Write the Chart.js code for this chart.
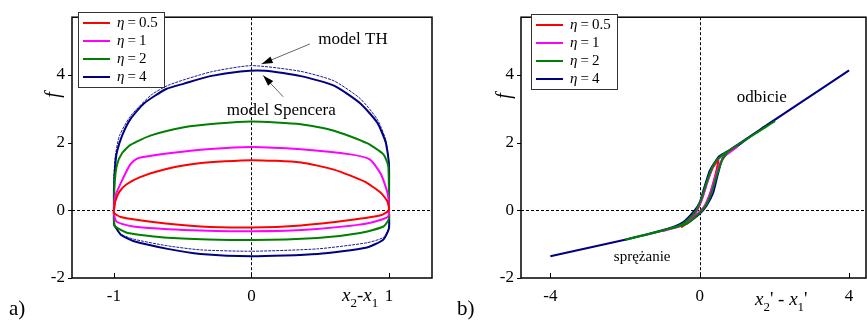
<!DOCTYPE html>
<html>
<head>
<meta charset="utf-8">
<script src="https://cdn.jsdelivr.net/npm/chart.js@4.4.0/dist/chart.umd.min.js"></script>
<style>
  html, body { margin: 0; padding: 0; background: #fff; overflow: hidden; width: 867px; height: 322px; }
  canvas { position: absolute; top: 0; }
  #c1 { left: 0; }
  #c2 { left: 440px; }
</style>
</head>
<body>
<canvas id="c1" width="440" height="322"></canvas>
<canvas id="c2" width="427" height="322"></canvas>
<script>
// series names and colours
var etaLabels = ['0.5', '1', '2', '4'];
var etaColors = ['#ff0000', '#ff00ff', '#008000', '#000080'];

// tick labels
var xTicksA = [-1, 0, 1];
var xTicksB = [-4, 0, 4];
var yTicks = [-2, 0, 2, 4];

// panel a) f against x2-x1, each loop: upper branch then lower branch
var aRedX = [-1, -0.99, -0.96, -0.91, -0.81, -0.62, -0.38, 0, 0.36, 0.6, 0.82, 0.94, 0.99, 1,
             0.94, 0.72, 0.36, 0, -0.37, -0.73, -0.95, -1, -1];
var aRedF = [0, 0.27, 0.55, 0.76, 0.98, 1.22, 1.39, 1.48, 1.41, 1.2, 0.85, 0.52, 0.25, 0,
             -0.15, -0.29, -0.45, -0.51, -0.48, -0.34, -0.2, -0.08, 0];

var aMagX = [-1, -0.99, -0.94, -0.88, -0.83, -0.6, -0.3, 0, 0.36, 0.72, 0.86, 0.94, 0.99, 1,
             0.99, 0.84, 0.48, 0, -0.49, -0.86, -0.98, -1, -1];
var aMagF = [0, 0.42, 0.89, 1.36, 1.53, 1.68, 1.81, 1.87, 1.8, 1.65, 1.5, 1.08, 0.5, 0,
             -0.2, -0.39, -0.55, -0.62, -0.58, -0.48, -0.34, -0.12, 0];

var aGrnX = [-1, -0.995, -0.977, -0.94, -0.88, -0.73, -0.49, -0.25, 0, 0.36, 0.6, 0.84, 0.96, 0.995, 1,
             1, 0.96, 0.79, 0.48, 0, -0.61, -0.9, -0.99, -1, -1];
var aGrnF = [0, 0.8, 1.36, 1.69, 1.93, 2.21, 2.45, 2.56, 2.62, 2.54, 2.35, 1.98, 1.65, 1.3, 0,
             -0.25, -0.48, -0.67, -0.82, -0.88, -0.81, -0.67, -0.48, -0.3, 0];

var aNavX = [-1, -1, -0.99, -0.977, -0.94, -0.88, -0.78, -0.62, -0.49, -0.3, -0.08, 0.1, 0.36, 0.6, 0.79, 0.914, 0.975, 1, 1,
             1, 0.96, 0.84, 0.48, 0, -0.37, -0.61, -0.86, -0.95, -1];
var aNavF = [-0.43, 0.6, 1.36, 1.74, 2.21, 2.69, 3.16, 3.58, 3.74, 3.96, 4.1, 4.12, 3.96, 3.68, 3.16, 2.59, 2.02, 1.36, 0,
             -0.53, -0.86, -1.1, -1.29, -1.36, -1.29, -1.14, -0.91, -0.72, -0.43];

// model TH (thin dotted)
var aThX = [-1, -1, -0.99, -0.96, -0.88, -0.73, -0.6, -0.3, 0, 0.36, 0.6, 0.79, 0.914, 0.975, 0.995, 1, 1,
            0.96, 0.84, 0.48, 0, -0.37, -0.61, -0.86, -0.96, -1];
var aThF = [-0.4, 1.0, 1.6, 2.2, 2.78, 3.4, 3.7, 4.08, 4.27, 4.1, 3.82, 3.3, 2.69, 2.1, 1.6, 1.0, -0.5,
            -0.8, -0.96, -1.14, -1.21, -1.17, -1.05, -0.85, -0.68, -0.4];

// panel b) f against x2'-x1'
var bRedV = [-0.5, -0.3, -0.1, 0.05, 0.2, 0.35, 0.5, 0.42, 0.28, 0.12, -0.05, -0.3, -0.5];
var bRedF = [-0.51, -0.35, -0.05, 0.3, 0.82, 1.25, 1.48, 1.05, 0.5, 0.1, -0.1, -0.33, -0.51];

var bMagV = [-1, -0.45, -0.1, 0.05, 0.2, 0.35, 0.5, 0.65, 1, 0.7, 0.55, 0.42, 0.28, 0.12, -0.05, -0.35, -1];
var bMagF = [-0.62, -0.42, -0.05, 0.3, 0.82, 1.28, 1.52, 1.65, 1.87, 1.62, 1.4, 1.0, 0.5, 0.1, -0.1, -0.4, -0.62];

var bGrnV = [-2, -1, -0.45, -0.12, 0.03, 0.18, 0.33, 0.48, 0.7, 2, 0.75, 0.57, 0.45, 0.31, 0.14, -0.03, -0.35, -1, -2];
var bGrnF = [-0.87, -0.6, -0.4, -0.05, 0.3, 0.8, 1.25, 1.5, 1.7, 2.62, 1.72, 1.4, 1.0, 0.5, 0.1, -0.1, -0.4, -0.6, -0.87];

var bNavV = [-4, -2, -1, -0.45, -0.13, 0, 0.13, 0.27, 0.4, 0.53, 0.8, 1.6, 2.5, 4,
             2.5, 1.6, 0.9, 0.62, 0.49, 0.36, 0.18, 0, -0.36, -0.8, -2, -4];
var bNavF = [-1.36, -0.87, -0.6, -0.36, 0, 0.23, 0.7, 1.17, 1.41, 1.6, 1.78, 2.37, 3.03, 4.13,
             3.03, 2.37, 1.8, 1.55, 1.08, 0.51, 0.13, -0.1, -0.39, -0.53, -0.87, -1.36];

var serif = '"Liberation Serif", "Times New Roman", serif';

function pts(xs, ys) {
  return xs.map(function (x, i) { return {x: x, y: ys[i]}; });
}

function loop(label, xs, ys, color, order) {
  return {
    label: label, data: pts(xs, ys), borderColor: color, backgroundColor: color,
    borderWidth: 2, showLine: true, pointRadius: 0, tension: 0.2, fill: false, order: order
  };
}

function line(ctx, x1, y1, x2, y2) {
  ctx.beginPath(); ctx.moveTo(x1, y1); ctx.lineTo(x2, y2); ctx.stroke();
}

function runs(ctx, x, y, list) {
  list.forEach(function (r) {
    ctx.font = r.font;
    ctx.fillText(r.t, x, y + (r.dy || 0));
    x += ctx.measureText(r.t).width;
  });
}

function arrow(ctx, x1, y1, x2, y2) {
  ctx.strokeStyle = '#666';
  ctx.lineWidth = 1;
  line(ctx, x1, y1, x2, y2);
  var ang = Math.atan2(y2 - y1, x2 - x1), L = 11, W = 3.5;
  var bx = x2 - L * Math.cos(ang), by = y2 - L * Math.sin(ang);
  ctx.beginPath();
  ctx.moveTo(x2, y2);
  ctx.lineTo(bx + W * Math.sin(ang), by - W * Math.cos(ang));
  ctx.lineTo(bx - W * Math.sin(ang), by + W * Math.cos(ang));
  ctx.closePath();
  ctx.fillStyle = '#000';
  ctx.fill();
}

// zero lines, frame, ticks, legend and notes
var decor = {
  id: 'decor',
  beforeDatasetsDraw: function (chart) {
    var ctx = chart.ctx, a = chart.chartArea, xs = chart.scales.x, ys = chart.scales.y;
    var x0 = Math.round(xs.getPixelForValue(0)) + 0.5, y0 = Math.round(ys.getPixelForValue(0)) + 0.5;
    ctx.save();
    ctx.strokeStyle = '#000';
    ctx.lineWidth = 1;
    ctx.setLineDash([3, 2]);
    line(ctx, a.left, y0, a.right, y0);
    line(ctx, x0, a.top, x0, a.bottom);
    ctx.restore();
  },
  afterDatasetsDraw: function (chart, args, o) {
    var ctx = chart.ctx, a = chart.chartArea, xs = chart.scales.x, ys = chart.scales.y;
    ctx.save();
    ctx.strokeStyle = '#000';
    ctx.lineWidth = 1.5;
    ctx.strokeRect(a.left, a.top, a.right - a.left, a.bottom - a.top);
    ctx.lineWidth = 1;
    yTicks.forEach(function (v) {
      var y = Math.round(ys.getPixelForValue(v)) + 0.5;
      line(ctx, a.left - 4, y, a.left, y);
    });
    o.xTicks.forEach(function (v) {
      var x = Math.round(xs.getPixelForValue(v)) + 0.5;
      line(ctx, x, a.bottom, x, a.bottom - 5);
    });

    // legend
    var lx = o.legend.x, ly = o.legend.y;
    ctx.fillStyle = '#fff';
    ctx.fillRect(lx, ly, 86, 75);
    ctx.strokeStyle = '#333';
    ctx.strokeRect(lx + 0.5, ly + 0.5, 86, 75);
    ctx.textBaseline = 'middle';
    etaLabels.forEach(function (lab, i) {
      var y = ly + 11 + 18 * i;
      ctx.strokeStyle = etaColors[i];
      ctx.lineWidth = 2;
      line(ctx, lx + 5, y, lx + 32, y);
      ctx.fillStyle = '#000';
      runs(ctx, lx + 39, y, [
        {t: '\u03b7', font: 'italic 15px ' + serif},
        {t: '\u2009=\u2009' + lab, font: '15px ' + serif}
      ]);
    });

    // notes and arrows
    ctx.textBaseline = 'alphabetic';
    ctx.fillStyle = '#000';
    o.notes.forEach(function (n) {
      ctx.font = n.size + 'px ' + serif;
      ctx.fillText(n.text, xs.getPixelForValue(n.x), ys.getPixelForValue(n.y));
    });
    o.arrows.forEach(function (r) {
      arrow(ctx, xs.getPixelForValue(r[0]), ys.getPixelForValue(r[1]),
            xs.getPixelForValue(r[2]), ys.getPixelForValue(r[3]));
    });

    // axis titles and panel letter
    ctx.fillStyle = '#000';
    runs(ctx, o.xTitle.x, o.xTitle.y, o.xTitle.runs);
    ctx.font = '21px ' + serif;
    ctx.fillText(o.panel.text, o.panel.x, o.panel.y);
    ctx.translate(o.fLabel.x, o.fLabel.y);
    ctx.rotate(-Math.PI / 2);
    ctx.font = 'italic 20px ' + serif;
    ctx.textAlign = 'center';
    ctx.textBaseline = 'middle';
    ctx.fillText('f', 0, 0);
    ctx.restore();
  }
};

function axes(xRange, xTicks, yWidth) {
  var tickFont = {family: serif, size: 17};
  return {
    x: {
      type: 'linear', min: xRange[0], max: xRange[1],
      afterBuildTicks: function (s) { s.ticks = xTicks.map(function (v) { return {value: v}; }); },
      afterFit: function (s) { s.height = 44; },
      grid: {display: false, drawTicks: false}, border: {display: false},
      ticks: {padding: 8, color: '#000', font: tickFont, maxRotation: 0, autoSkip: false,
              callback: function (v) { return String(v); }}
    },
    y: {
      type: 'linear', min: -2, max: 5.7,
      afterBuildTicks: function (s) { s.ticks = yTicks.map(function (v) { return {value: v}; }); },
      afterFit: function (s) { s.width = yWidth; },
      grid: {display: false, drawTicks: false}, border: {display: false},
      ticks: {padding: 7, color: '#000', font: tickFont, autoSkip: false,
              callback: function (v) { return String(v); }}
    }
  };
}

var sub = '13px ' + serif, ital = 'italic 19px ' + serif, reg = '19px ' + serif;

new Chart(document.getElementById('c1'), {
  type: 'scatter',
  data: {
    datasets: [
      loop('\u03b7=0.5', aRedX, aRedF, etaColors[0], 1),
      loop('\u03b7=1', aMagX, aMagF, etaColors[1], 2),
      loop('\u03b7=2', aGrnX, aGrnF, etaColors[2], 3),
      loop('\u03b7=4', aNavX, aNavF, etaColors[3], 4),
      {label: 'model TH', data: pts(aThX, aThF), borderColor: '#1a1a9a', borderWidth: 1,
       borderDash: [3, 1], showLine: true, pointRadius: 0, tension: 0.2, fill: false, order: 5}
    ]
  },
  options: {
    responsive: false, animation: false,
    layout: {padding: {left: 0, top: 7, right: 8, bottom: 0}},
    scales: axes([-1.305, 1.313], xTicksA, 72),
    plugins: {
      legend: {display: false}, tooltip: {enabled: false},
      decor: {
        xTicks: xTicksA,
        legend: {x: 78, y: 12},
        notes: [
          {text: 'model TH', x: 0.486, y: 4.91, size: 17},
          {text: 'model Spencera', x: -0.18, y: 2.8, size: 17}
        ],
        arrows: [[0.425, 4.91, 0.074, 4.32], [0.231, 3.35, 0.085, 3.98]],
        xTitle: {x: 342, y: 301, runs: [
          {t: 'x', font: ital}, {t: '2', font: sub, dy: 6}, {t: '-', font: reg},
          {t: 'x', font: ital}, {t: '1', font: sub, dy: 6}
        ]},
        panel: {text: 'a)', x: 9, y: 315},
        fLabel: {x: 54, y: 95}
      }
    }
  },
  plugins: [decor]
});

new Chart(document.getElementById('c2'), {
  type: 'scatter',
  data: {
    datasets: [
      loop('\u03b7=0.5', bRedV, bRedF, etaColors[0], 3),
      loop('\u03b7=1', bMagV, bMagF, etaColors[1], 2),
      loop('\u03b7=2', bGrnV, bGrnF, etaColors[2], 1),
      loop('\u03b7=4', bNavV, bNavF, etaColors[3], 4)
    ]
  },
  options: {
    responsive: false, animation: false,
    layout: {padding: {left: 0, top: 7, right: 1, bottom: 0}},
    scales: axes([-4.786, 4.454], xTicksB, 81),
    plugins: {
      legend: {display: false}, tooltip: {enabled: false},
      decor: {
        xTicks: xTicksB,
        legend: {x: 91, y: 14},
        notes: [
          {text: 'odbicie', x: 0.99, y: 3.2, size: 17},
          {text: 'spr\u0119\u017canie', x: -2.3, y: -1.49, size: 15}
        ],
        arrows: [],
        xTitle: {x: 315, y: 305, runs: [
          {t: 'x', font: ital}, {t: '2', font: sub, dy: 6}, {t: "'", font: reg}, {t: ' - ', font: reg},
          {t: 'x', font: ital}, {t: '1', font: sub, dy: 6}, {t: "'", font: reg}
        ]},
        panel: {text: 'b)', x: 17, y: 315},
        fLabel: {x: 65, y: 96}
      }
    }
  },
  plugins: [decor]
});
</script>
</body>
</html>
